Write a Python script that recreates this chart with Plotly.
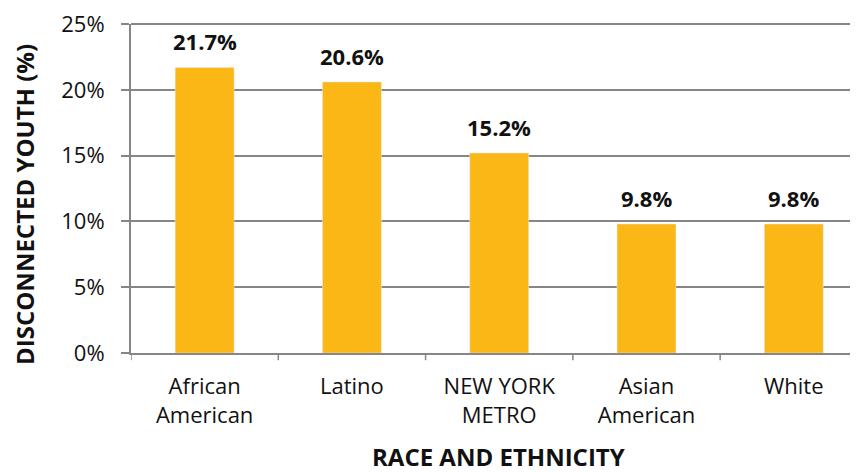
import plotly.graph_objects as go

categories = ["African<br>American", "Latino", "NEW YORK<br>METRO", "Asian<br>American", "White"]
values = [21.7, 20.6, 15.2, 9.8, 9.8]
labels = ["21.7%", "20.6%", "15.2%", "9.8%", "9.8%"]
y_ticks = [0, 5, 10, 15, 20, 25]
y_tick_labels = ["0%", "5%", "10%", "15%", "20%", "25%"]

FONT = "'Open Sans', Lato, sans-serif"
GRAY = "#868686"

fig = go.Figure(go.Bar(
    x=list(range(len(categories))), y=values,
    marker_color="#FBB715", width=0.4,
    hoverinfo="skip",
))

# value labels above bars
for i, (v, t) in enumerate(zip(values, labels)):
    fig.add_annotation(x=i, y=v, text=f"<b>{t}</b>", showarrow=False,
                       xref="x", yref="y", yanchor="bottom", yshift=9,
                       font=dict(family=FONT, size=22, color="#111111"))

fig.update_layout(
    width=850, height=464,
    margin=dict(l=123, r=0, t=14, b=119),
    paper_bgcolor="white", plot_bgcolor="white",
    showlegend=False,
    font=dict(family=FONT, size=22, color="#111111"),
    xaxis=dict(
        range=[-0.5, 4.436],
        tickmode="array", tickvals=list(range(len(categories))), ticktext=categories,
        showline=True, linecolor=GRAY, linewidth=2,
        ticks="", showgrid=False, zeroline=False,
        tickfont=dict(size=22), ticklabelstandoff=13,
    ),
    yaxis=dict(
        range=[0, 25],
        tickmode="array", tickvals=y_ticks, ticktext=y_tick_labels,
        showline=True, linecolor=GRAY, linewidth=2,
        ticks="outside", ticklen=8, tickcolor=GRAY, tickwidth=1.5,
        showgrid=True, gridcolor=GRAY, gridwidth=1.5, zeroline=False,
        tickfont=dict(size=22), ticklabelstandoff=12,
        ticklabeloverflow="allow",
    ),
)

# top gridline at the top of the value range (plot edge), drawn unclipped
fig.add_shape(type="line", xref="paper", yref="paper", x0=0, x1=1,
              y0=1, y1=1, line=dict(color=GRAY, width=2), layer="above")

# axis titles
fig.add_annotation(text="<b>RACE AND ETHNICITY</b>", xref="paper", yref="paper",
                   x=0.5, y=-0.316, xshift=4, yanchor="middle", showarrow=False,
                   font=dict(family=FONT, size=24, color="#111111"))
fig.add_annotation(text="<b>DISCONNECTED YOUTH (%)</b>", xref="paper", yref="paper",
                   x=0, xshift=-106, y=0.45, textangle=-90, xanchor="center",
                   yanchor="middle", showarrow=False,
                   font=dict(family=FONT, size=24, color="#111111"))

# boundary tick marks on the category axis
for b in [-0.5, 0.5, 1.5, 2.5, 3.5]:
    fig.add_shape(type="line", xref="x", yref="paper", x0=b, x1=b, y0=0, y1=-0.022,
                  line=dict(color=GRAY, width=1.5))

fig.write_html("out.html")
